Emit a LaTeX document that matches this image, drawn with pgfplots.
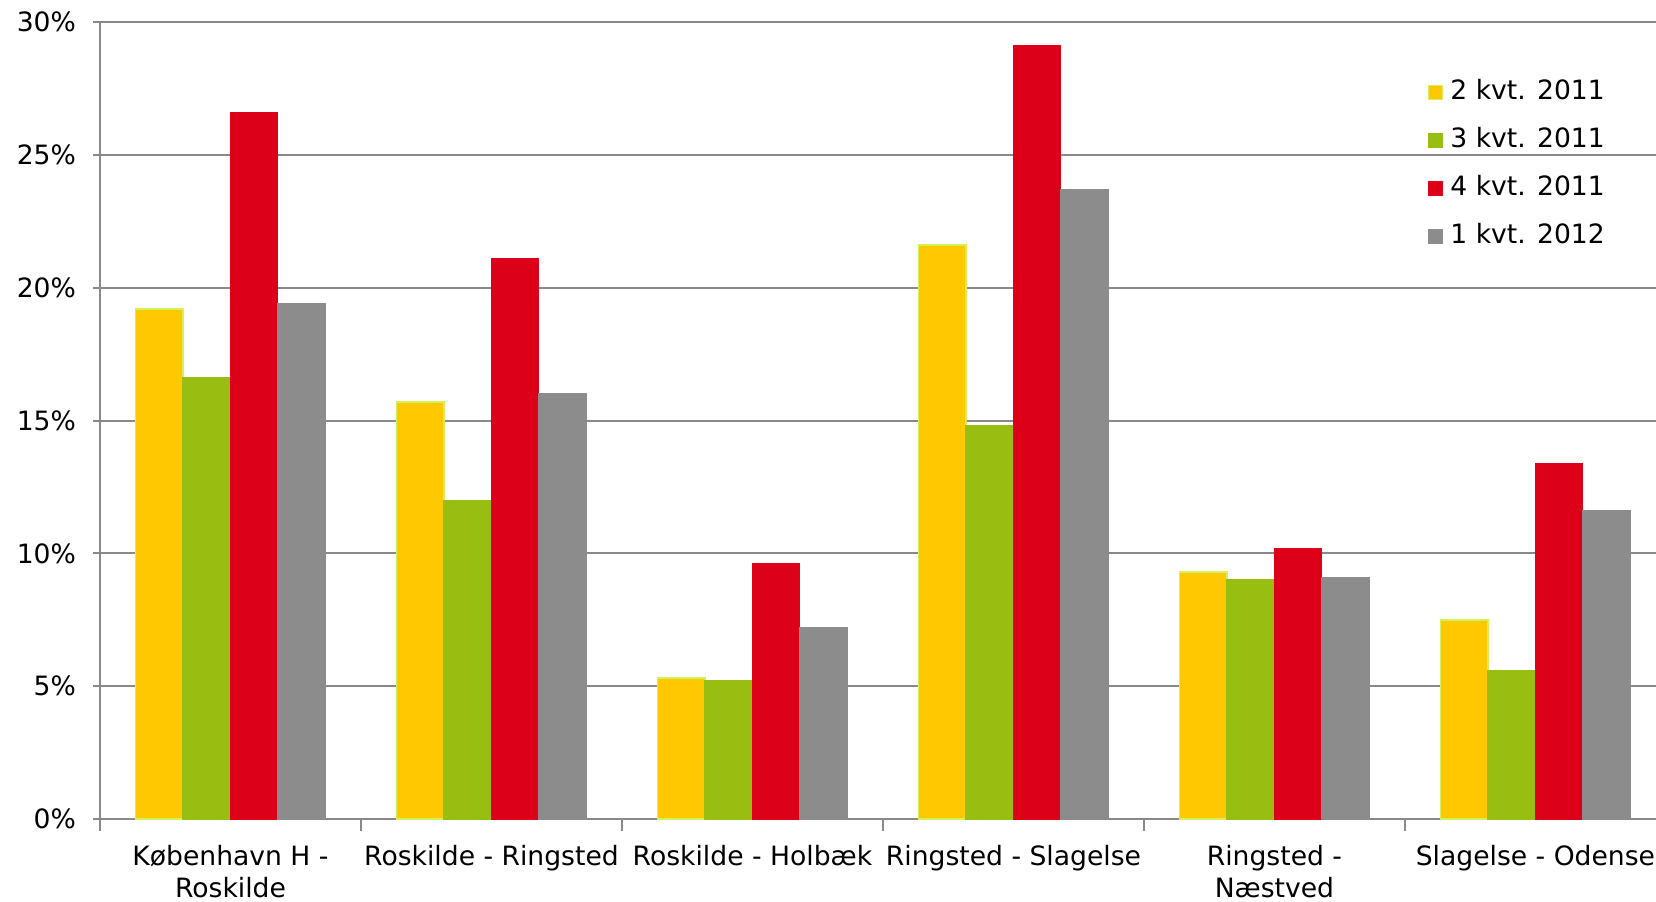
\documentclass[border=0pt]{standalone}
\usepackage{pgfplots}
\pgfplotsset{compat=1.18}
\usepackage{fontspec}
\setmainfont{DejaVu Sans}
\definecolor{cYel}{RGB}{255,200,0}
\definecolor{cYelB}{RGB}{214,240,90}
\definecolor{cGrn}{RGB}{153,190,18}
\definecolor{cRed}{RGB}{220,0,24}
\definecolor{cGry}{RGB}{140,140,140}
\definecolor{cGrid}{RGB}{137,137,137}
\begin{document}
\begin{tikzpicture}
\begin{axis}[
  at={(0,0)}, anchor=south west,
  scale only axis,
  width=778pt, height=398.5pt,
  xmin=-0.5, xmax=5.462,
  ymin=0, ymax=30,
  axis x line=bottom, axis y line=left,
  axis line style={-, cGrid, line width=1pt},
  ytick={0,5,...,30},
  yticklabels={0\%,5\%,10\%,15\%,20\%,25\%,30\%},
  ymajorgrids,
  grid style={cGrid, line width=1pt},
  xtick={0,...,5},
  xticklabels={{København H -\\Roskilde},{Roskilde - Ringsted},{Roskilde - Holbæk},{Ringsted - Slagelse},{Ringsted -\\Næstved},{Slagelse - Odense}},
  minor xtick={-0.5,0.5,...,4.5},
  x tick style={draw=none},
  minor x tick style={draw=cGrid, line width=1pt},
  y tick style={cGrid, line width=1pt},
  tick align=outside,
  major tick length=3.5pt,
  minor tick length=6pt,
  xticklabel style={align=center, font=\fontsize{13.3}{16}\selectfont, yshift=-6pt},
  yticklabel style={font=\fontsize{13.3}{16}\selectfont, xshift=-5pt},
  ybar=0pt,
  bar width=0.182,
  legend style={draw=none, fill=none, at={(0.8495,0.9317)}, anchor=north west,
    font=\fontsize{13.3}{16}\selectfont, row sep=12pt, column sep=3.5pt,
    nodes={inner sep=0pt, text height=9.5pt, text depth=2.5pt}},
  legend cell align=left,
  legend image code/.code={\draw[#1, line width=0.6pt] (0pt,-3.5pt) rectangle (7pt,3.5pt);},
]
\addplot[fill=cYel, draw=cYelB, line width=0.8pt, bar shift=-0.273] coordinates {(0,19.2) (1,15.7) (2,5.3) (3,21.6) (4,9.3) (5,7.5)};
\addplot[fill=cGrn, draw=cGrn, line width=0pt, bar shift=-0.091] coordinates {(0,16.6) (1,12.0) (2,5.2) (3,14.8) (4,9.0) (5,5.6)};
\addplot[fill=cRed, draw=cRed, line width=0pt, bar shift=0.091] coordinates {(0,26.6) (1,21.1) (2,9.6) (3,29.1) (4,10.2) (5,13.4)};
\addplot[fill=cGry, draw=cGry, line width=0pt, bar shift=0.273] coordinates {(0,19.4) (1,16.0) (2,7.2) (3,23.7) (4,9.1) (5,11.6)};
\legend{2 kvt. 2011, 3 kvt. 2011, 4 kvt. 2011, 1 kvt. 2012}
\end{axis}
\pgfresetboundingbox
\useasboundingbox (-50pt,-41pt) rectangle (778pt,409.5pt);
\end{tikzpicture}
\end{document}
